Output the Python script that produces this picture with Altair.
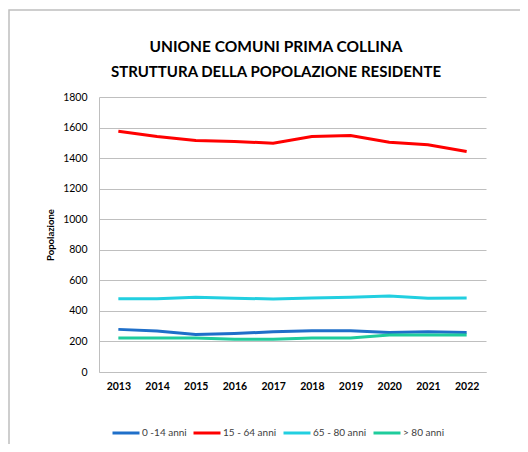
import altair as alt
import pandas as pd

years = ["2013", "2014", "2015", "2016", "2017", "2018", "2019", "2020", "2021", "2022"]
series_names = ["0 -14 anni", "15 - 64 anni", "65 - 80 anni", "> 80 anni"]
age_0_14 = [279, 268, 246, 252, 263, 270, 270, 259, 263, 259]
age_15_64 = [1576, 1541, 1515, 1509, 1498, 1541, 1548, 1504, 1487, 1443]
age_65_80 = [479, 479, 489, 483, 478, 485, 490, 498, 483, 485]
age_80_plus = [222, 222, 222, 215, 215, 222, 222, 242, 242, 242]
colors = ["#1F6FC9", "#FF0000", "#22CFE0", "#1FCC9C"]
y_ticks = [0, 200, 400, 600, 800, 1000, 1200, 1400, 1600, 1800]
title_lines = ["UNIONE COMUNI PRIMA COLLINA", "STRUTTURA DELLA POPOLAZIONE RESIDENTE"]

rows = []
for name, vals in zip(series_names, [age_0_14, age_15_64, age_65_80, age_80_plus]):
    for yr, v in zip(years, vals):
        rows.append({"Anno": yr, "Serie": name, "Popolazione": v})
df = pd.DataFrame(rows)

FONT = "Lato"

frame = alt.Chart(pd.DataFrame({"a": [0]})).mark_rect(
    fill="transparent", stroke="#BFBFBF", strokeWidth=1.5
).encode(
    x=alt.value(-90), x2=alt.value(440), y=alt.value(-87), y2=alt.value(400)
)

title1 = alt.Chart(pd.DataFrame({"t": [title_lines[0]]})).mark_text(
    font=FONT, fontSize=15.5, fontWeight="bold", color="#000000", baseline="middle", align="center"
).encode(text="t:N", x=alt.value(177), y=alt.value(-50))

title2 = alt.Chart(pd.DataFrame({"t": [title_lines[1]]})).mark_text(
    font=FONT, fontSize=15, fontWeight="bold", color="#000000", baseline="middle", align="center"
).encode(text="t:N", x=alt.value(177), y=alt.value(-25))

lines = alt.Chart(df).mark_line(strokeWidth=3).encode(
    x=alt.X("Anno:O", sort=years, title=None,
            scale=alt.Scale(type="point", padding=0.5),
            axis=alt.Axis(labelAngle=0, labelFontWeight="bold", labelFontSize=10.5,
                          labelColor="#000000", ticks=False, domainColor="#BFBFBF",
                          labelPadding=9, grid=False)),
    y=alt.Y("Popolazione:Q", title="Popolazione",
            scale=alt.Scale(domain=[0, 1800], nice=False),
            axis=alt.Axis(values=y_ticks, format="d", ticks=False, domainColor="#BFBFBF",
                          gridColor="#BFBFBF", labelFontSize=10.5, labelColor="#000000",
                          labelPadding=12, titleFontSize=9.5, titleFontWeight="bold",
                          titleColor="#000000", titlePadding=7)),
    color=alt.Color("Serie:N", sort=series_names,
                    scale=alt.Scale(domain=series_names, range=colors),
                    legend=alt.Legend(title=None, orient="none", direction="horizontal",
                                      legendX=12, legendY=321, symbolType="stroke",
                                      symbolSize=729, symbolStrokeWidth=3,
                                      labelFontSize=10, labelColor="#404040",
                                      labelOffset=1, columnPadding=0, gridAlign="none",
                                      symbolOffset=0)),
    order=alt.Order("Anno:O"),
)

chart = alt.layer(frame, title1, title2, lines).properties(
    width=387,
    height=275,
    autosize=alt.AutoSizeParams(type="none"),
    padding={"left": 91, "top": 89, "right": 34, "bottom": 72},
).configure(font=FONT).configure_view(stroke=None)

chart.save("out.html", embed_options={"renderer": "svg", "actions": False})
